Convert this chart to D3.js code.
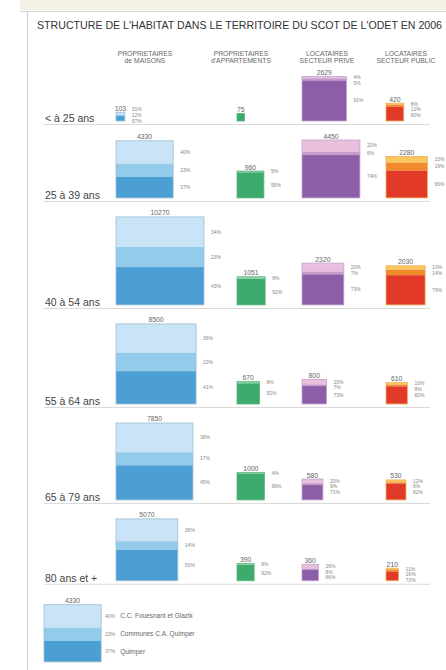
<!DOCTYPE html>
<html>
<head>
<meta charset="utf-8">
<script src="https://cdn.jsdelivr.net/npm/d3@7"></script>
<style>
  body { margin: 0; background: #fff; }
  svg { display: block; font-family: 'Liberation Sans', Arial, sans-serif; }
</style>
</head>
<body>
<script>
let title = "STRUCTURE DE L'HABITAT DANS LE TERRITOIRE DU SCOT DE L'ODET EN 2006"
let ages = ['< à 25 ans', '25 à 39 ans', '40 à 54 ans', '55 à 64 ans', '65 à 79 ans', '80 ans et +']
let headers = [
  ['PROPRIETAIRES', 'de MAISONS'],
  ['PROPRIETAIRES', "d'APPARTEMENTS"],
  ['LOCATAIRES', 'SECTEUR PRIVE'],
  ['LOCATAIRES', 'SECTEUR PUBLIC']
]

// totals per age group, shares top -> bottom (%)
let maisons = [103, 4330, 10270, 8500, 7850, 5070]
let maisonsPart = [[31, 12, 57], [40, 23, 37], [34, 23, 43], [36, 23, 41], [38, 17, 45], [36, 14, 50]]
let appart = [75, 960, 1051, 670, 1000, 390]
let appartPart = [null, [5, 95], [8, 92], [8, 92], [4, 96], [8, 92]]
let prive = [2629, 4450, 2320, 800, 580, 360]
let privePart = [[4, 5, 91], [20, 6, 74], [20, 7, 73], [20, 7, 73], [20, 9, 71], [26, 8, 66]]
let publicLoc = [420, 2280, 2030, 610, 530, 210]
let publicPart = [[8, 12, 80], [15, 19, 66], [10, 14, 76], [10, 8, 82], [12, 6, 82], [11, 16, 73]]

let legendTotal = 4330
let legendPart = [40, 23, 37]
let legendNames = ['C.C. Fouesnant et Glazik', 'Communes C.A. Quimper', 'Quimper']

let width = 446
let height = 670
let colX = [116, 237, 302, 386]
let headX = [145, 241, 327, 406]
let colors = [
  ['#c8e4f6', '#94cbeb', '#4c9fd5'],
  ['#8fd3a8', '#3dab6b'],
  ['#eabfdd', '#c39ccb', '#8b5ea7'],
  ['#f8c85c', '#f08a2b', '#e23a29']
]
let strokes = ['#9dbdd2', '#5bb77f', '#c2a3cf', '#f0b060']
let rowTop = 121
let gap = 19

let columns = [
  { total: maisons, part: maisonsPart },
  { total: appart, part: appartPart },
  { total: prive, part: privePart },
  { total: publicLoc, part: publicPart }
]

let allTotals = maisons.concat(appart, prive, publicLoc)
let side = d3.scaleSqrt()
  .domain([0, d3.max(allTotals)])
  .range([0, 88])

// row bottoms follow the biggest box of each row
let bases = [rowTop]
for (let i = 1; i < ages.length; i++) {
  let m = d3.max(columns, c => side(c.total[i]))
  bases.push(bases[i - 1] + gap + m)
}

let svg = d3.select('body')
  .append('svg')
  .attr('width', width)
  .attr('height', height)

// frame
svg.append('rect')
  .attr('x', 20).attr('y', 0)
  .attr('width', width - 20).attr('height', 10)
  .attr('fill', '#f4f1e6')
svg.append('line')
  .attr('x1', 20).attr('x2', width)
  .attr('y1', 11.5).attr('y2', 11.5)
  .attr('stroke', '#d8d8d8')
svg.append('line')
  .attr('x1', 27.5).attr('x2', 27.5)
  .attr('y1', 12).attr('y2', height)
  .attr('stroke', '#cfcfcf')

svg.append('text')
  .attr('x', 37)
  .attr('y', 29)
  .attr('font-size', 10.6)
  .attr('fill', '#333')
  .attr('textLength', 405)
  .attr('lengthAdjust', 'spacingAndGlyphs')
  .text(title)

headers.forEach((h, i) => {
  svg.append('text')
    .attr('x', headX[i])
    .attr('text-anchor', 'middle')
    .attr('font-size', 6.8)
    .attr('fill', '#666')
    .selectAll('tspan')
    .data(h)
    .enter()
    .append('tspan')
    .attr('x', headX[i])
    .attr('y', (d, j) => 56 + j * 6.8)
    .text(d => d)
})

function pctLabelY (segs, bottom) {
  let ys = segs.map(d => (d.y0 + d.y1) / 2 + 1.7)
  for (let i = 1; i < ys.length; i++) ys[i] = Math.max(ys[i], ys[i - 1] + 5.6)
  let over = ys[ys.length - 1] - (bottom + 1.5)
  if (over > 0) ys = ys.map(y => y - over)
  return ys
}

function drawBox (g, x, bottom, total, part, pal, stroke, labelDx) {
  let s = side(total)
  let top = bottom - s
  let shares = part || [100]
  let sum = d3.sum(shares)
  let cum = [0].concat(Array.from(d3.cumsum(shares)))
  let segs = shares.map((p, j) => ({
    p: p,
    y0: top + s * cum[j] / sum,
    y1: top + s * cum[j + 1] / sum,
    c: part ? pal[j] : pal[pal.length - 1]
  }))

  g.selectAll(null)
    .data(segs)
    .enter()
    .append('rect')
    .attr('x', x)
    .attr('y', d => d.y0)
    .attr('width', s)
    .attr('height', d => d.y1 - d.y0)
    .attr('fill', d => d.c)

  g.append('rect')
    .attr('x', x)
    .attr('y', top)
    .attr('width', s)
    .attr('height', s)
    .attr('fill', 'none')
    .attr('stroke', stroke)
    .attr('stroke-width', 0.8)

  g.append('text')
    .attr('x', x + s / 2)
    .attr('y', top - 1.5)
    .attr('text-anchor', 'middle')
    .attr('font-size', 6.8)
    .attr('fill', '#666')
    .text(total)

  if (!part) return segs
  let ys = pctLabelY(segs, bottom)
  g.selectAll(null)
    .data(segs)
    .enter()
    .append('text')
    .attr('x', x + s + labelDx)
    .attr('y', (d, j) => ys[j])
    .attr('font-size', 5)
    .attr('fill', '#888')
    .text(d => d.p + '%')
  return segs
}

ages.forEach((age, i) => {
  let g = svg.append('g')
  let b = bases[i]
  g.append('text')
    .attr('x', 45)
    .attr('y', b + 1)
    .attr('font-size', 10.5)
    .attr('fill', '#444')
    .text(age)
  columns.forEach((c, k) => {
    drawBox(g, colX[k], b, c.total[i], c.part[i], colors[k], strokes[k], 7)
  })
  g.append('line')
    .attr('x1', 44).attr('x2', 430)
    .attr('y1', b + 3.5).attr('y2', b + 3.5)
    .attr('stroke', '#d9d9d9')
})

// legend
let lg = svg.append('g')
let lBottom = bases[bases.length - 1] + 24 + side(legendTotal)
let lSegs = drawBox(lg, 44, lBottom, legendTotal, legendPart, colors[0], strokes[0], 4)
let ls = side(legendTotal)
lg.selectAll('.lname')
  .data(lSegs)
  .enter()
  .append('text')
  .attr('class', 'lname')
  .attr('x', 44 + ls + 19)
  .attr('y', d => (d.y0 + d.y1) / 2 + 2.3)
  .attr('font-size', 6.5)
  .attr('fill', '#666')
  .text((d, j) => legendNames[j])
</script>
</body>
</html>
